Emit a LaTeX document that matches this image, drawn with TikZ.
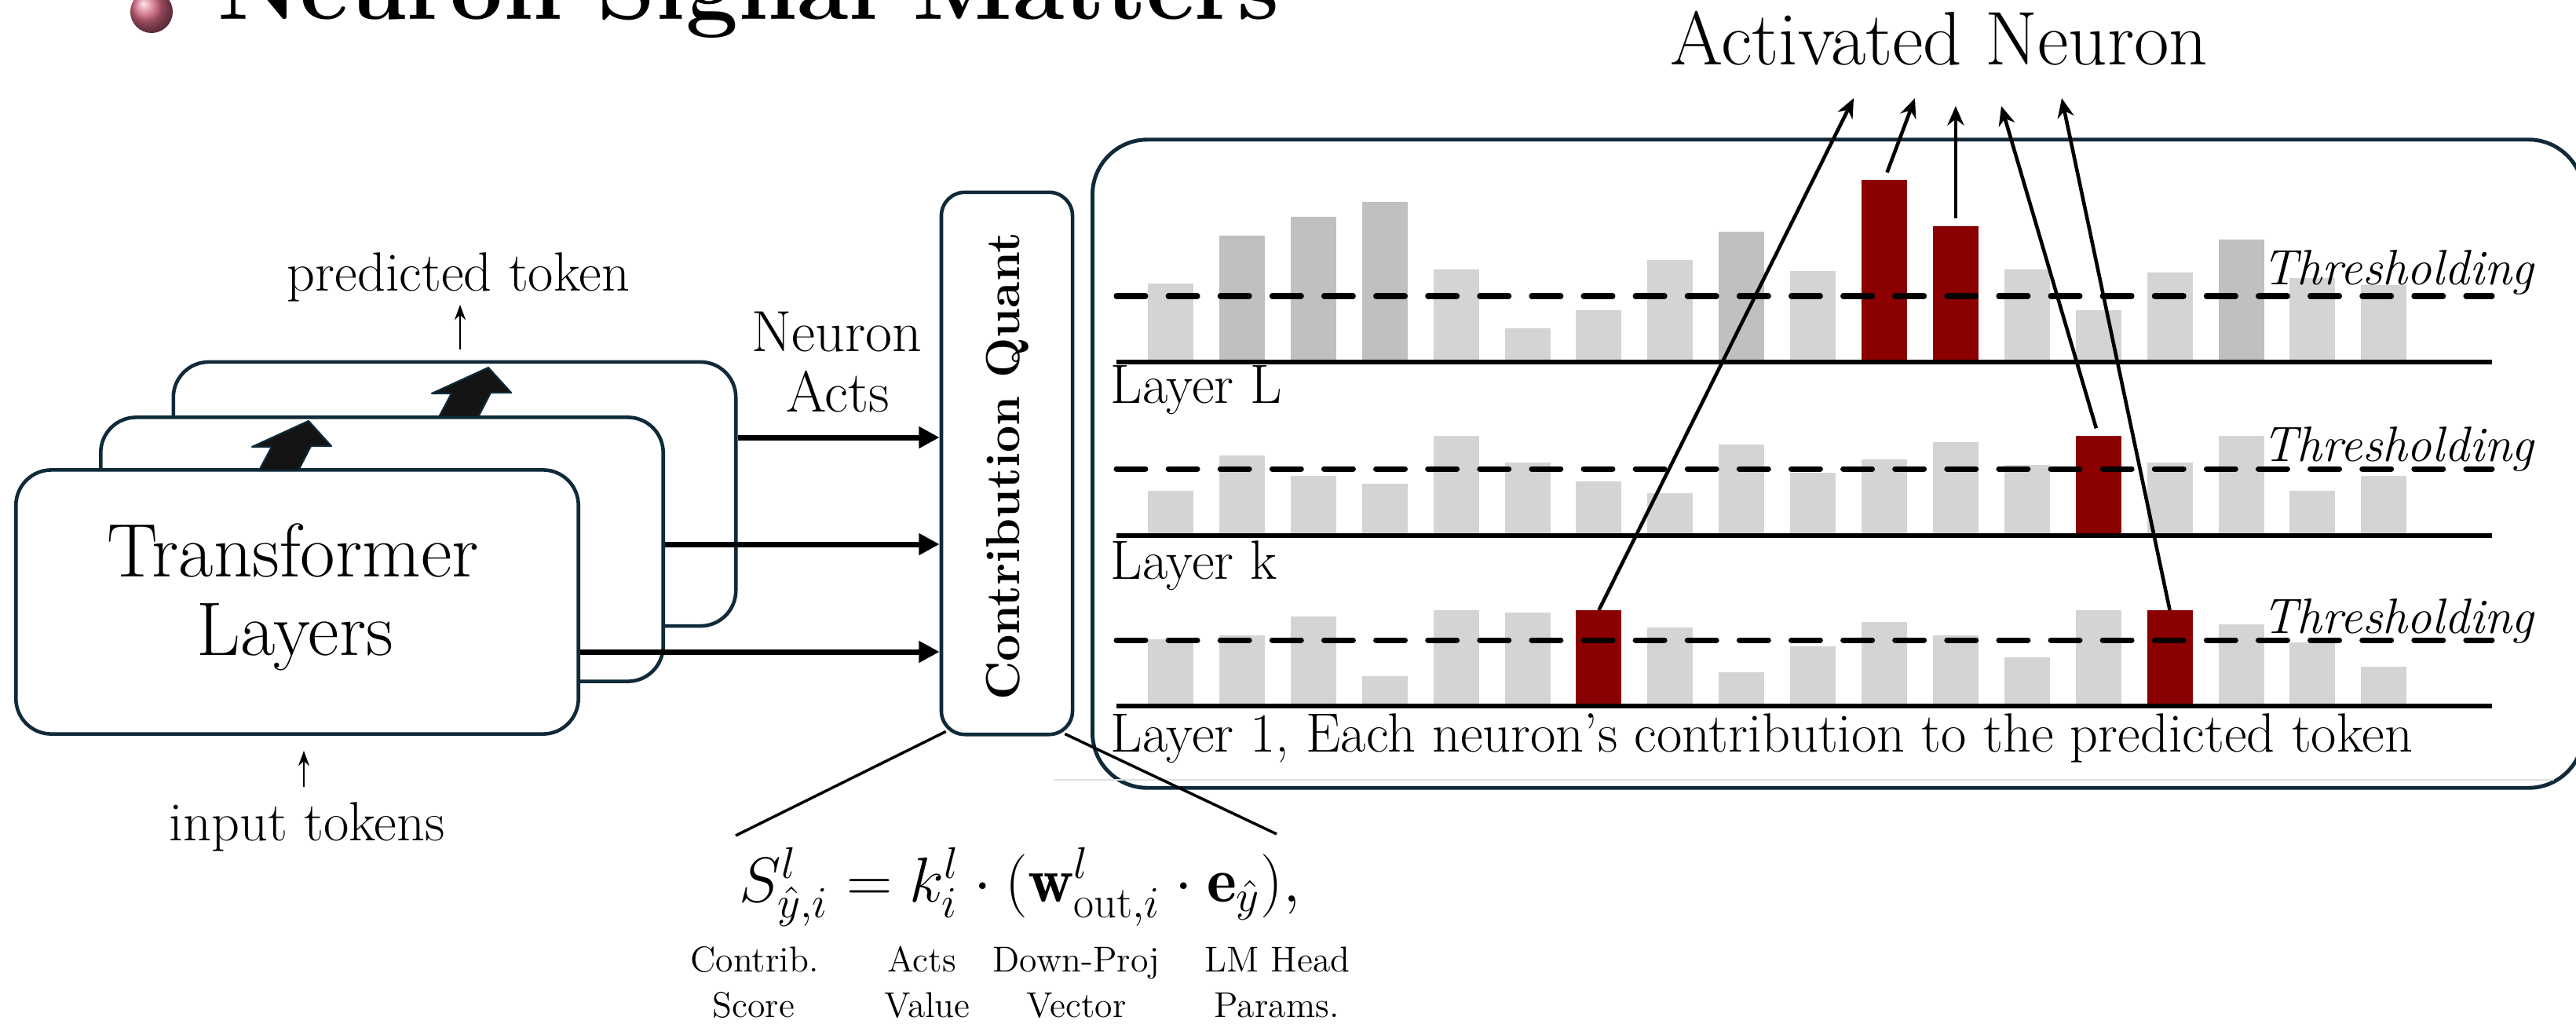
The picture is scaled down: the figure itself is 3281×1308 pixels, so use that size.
\documentclass[tikz,border=0pt]{standalone}
\usepackage{fix-cm}
\usepackage{fontspec}
\usetikzlibrary{arrows.meta}
\definecolor{navy}{RGB}{16,42,58}
\definecolor{barA}{RGB}{212,212,212}
\definecolor{barB}{RGB}{192,192,192}
\definecolor{barR}{RGB}{139,0,0}
\begin{document}
\begin{tikzpicture}[x=0.01cm,y=0.01cm,
  lbl/.style={inner sep=0pt, font=\fontsize{20}{23}\selectfont},
  tbox/.style={draw=navy, line width=1.3pt, fill=white, rounded corners=0.45cm, minimum width=7.16cm, minimum height=3.36cm, inner sep=0pt},
  barnode/.style={inner sep=0pt, outer sep=0pt, minimum width=0.58cm, anchor=south},
  flow/.style={line width=2pt, -{Triangle[length=7.5pt,width=7.5pt]}},
  actarrow/.style={line width=1.3pt, -{Stealth[length=7pt,width=6pt]}},
  tokarrow/.style={line width=0.7pt, -{Stealth[length=5.5pt,width=4pt]}},
  baseln/.style={line width=1.7pt},
  thrline/.style={line width=2pt, dash pattern=on 10.5pt off 8.3pt, line cap=round},
  thrtext/.style={inner sep=0pt, anchor=base east, font=\itshape\fontsize{18}{20}\selectfont},
  blockarrow/.style={fill=black!92, draw=navy, line width=0.6pt, line join=round},
  eqlbl/.style={inner sep=0pt, anchor=base, font=\fontsize{13}{15}\selectfont},
]
\useasboundingbox (0,0) rectangle (3281,-1308);
\clip (0,0) rectangle (3281,-1308);

% ---------- title (cut off at top) ----------
\shade[ball color={rgb,255:red,215;green,105;blue,130}] (193,-15) ellipse [x radius=0.27cm, y radius=0.27cm];
\node[anchor=base west, inner sep=0pt, font=\bfseries\fontsize{34}{40}\selectfont] (title) at (277,-24) {Neuron Signal Matters};

% ---------- right panel ----------
\node[draw=navy, line width=1.4pt, rounded corners=0.7cm, minimum width=18.98cm, minimum height=8.25cm, inner sep=0pt] (panel) at (2341,-590.5) {};
\draw[gray!25, line width=0.5pt] (1342,-993) -- (3253,-993);

% Layer L bars
\foreach \i/\t/\c in {1/361/barA,2/300/barB,3/276/barB,4/257/barB,5/343/barA,6/418/barA,7/395/barA,8/331/barA,9/295/barB,10/345/barA,11/229/barR,12/288/barR,13/343/barA,14/395/barA,15/347/barA,16/305/barB,17/354/barA,18/363/barA}{
  \pgfmathsetmacro\h{(461-\t)/100}
  \node[barnode, fill=\c, minimum height=\h cm] (L\i) at ({1491+(\i-1)*90.9},-461) {};
}
% Layer k bars
\foreach \i/\t/\c in {1/625/barA,2/580/barA,3/606/barA,4/616/barA,5/555/barA,6/589/barA,7/613/barA,8/628/barA,9/566/barA,10/602/barA,11/585/barA,12/563/barA,13/592/barA,14/555/barR,15/589/barA,16/555/barA,17/625/barA,18/606/barA}{
  \pgfmathsetmacro\h{(682-\t)/100}
  \node[barnode, fill=\c, minimum height=\h cm] (K\i) at ({1491+(\i-1)*90.9},-682) {};
}
% Layer 1 bars
\foreach \i/\t/\c in {1/814/barA,2/809/barA,3/785/barA,4/861/barA,5/777/barA,6/780/barA,7/777/barR,8/799/barA,9/856/barA,10/823/barA,11/792/barA,12/809/barA,13/837/barA,14/777/barA,15/777/barR,16/795/barA,17/818/barA,18/849/barA}{
  \pgfmathsetmacro\h{(899-\t)/100}
  \node[barnode, fill=\c, minimum height=\h cm] (F\i) at ({1491+(\i-1)*90.9},-899) {};
}

\draw[baseln] (1422,-461) -- (3174,-461);
\draw[baseln] (1422,-682) -- (3174,-682);
\draw[baseln] (1422,-899) -- (3174,-899);
\draw[thrline] (1422,-377) -- (3174,-377);
\draw[thrline] (1422,-597) -- (3174,-597);
\draw[thrline] (1422,-815) -- (3174,-815);

\node[thrtext] (thrL) at (3228,-362) {Thresholding};
\node[thrtext] (thrK) at (3228,-587) {Thresholding};
\node[thrtext] (thr1) at (3228,-806) {Thresholding};

\node[lbl, anchor=base west] (layL) at (1414,-513) {Layer L};
\node[lbl, anchor=base west] (layK) at (1414,-737) {Layer k};
\node[lbl, anchor=base west] (lay1) at (1414,-957) {Layer 1, Each neuron’s contribution to the predicted token};

% Activated neuron
\node[inner sep=0pt, anchor=base, font=\fontsize{27.5}{31}\selectfont] (actn) at (2470,-82) {Activated Neuron};
\coordinate (t1) at (2361,-125);
\coordinate (t2) at (2439,-125);
\coordinate (h135) at (0,-135);
\coordinate (t3) at (L12.north |- h135);
\coordinate (t4) at (2549,-135);
\coordinate (t5) at (2626,-125);
\draw[actarrow] (F7.north) -- (t1);
\draw[actarrow, shorten <=0.1cm] (L11.north) -- (t2);
\draw[actarrow, shorten <=0.1cm] (L12.north) -- (t3);
\draw[actarrow, shorten <=0.1cm] (K14.north) -- (t4);
\draw[actarrow] (F15.north) -- (t5);

% ---------- transformer stack ----------
\node[tbox] (tb3) at (579,-629) {};
\node[tbox] (tb2) at (486.5,-699.5) {};
\begin{scope}[shift={(229,68)}]
\path[blockarrow] (330,-599) -- (346,-569) -- (321,-569) -- (393,-536) -- (422,-568) -- (396,-568) -- (380,-599) -- cycle;
\end{scope}
\node[tbox] (tb1) at (378.5,-766.5) {};
\path[blockarrow] (330,-599) -- (346,-569) -- (321,-569) -- (393,-536) -- (422,-568) -- (396,-568) -- (380,-599) -- cycle;

\node[inner sep=0pt, anchor=base, font=\fontsize{27.5}{31}\selectfont] (tl1) at (373,-734) {Transformer};
\node[inner sep=0pt, anchor=base, font=\fontsize{27.5}{31}\selectfont] (tl2) at (376,-834) {Layers};

\node[lbl, anchor=base] (pt) at (584,-370) {predicted token};
\coordinate (ptA) at (586,-445);
\coordinate (ptB) at (586,-388);
\draw[tokarrow] (ptA) -- (ptB);

\node[lbl, anchor=base] (it) at (391,-1070) {input tokens};
\coordinate (inA) at (387,-1002);
\coordinate (inB) at (387,-956);
\draw[tokarrow] (inA) -- (inB);

\node[inner sep=0pt, anchor=base, font=\fontsize{21}{24}\selectfont] (na1) at (1066,-447) {Neuron};
\node[inner sep=0pt, anchor=base, font=\fontsize{21}{24}\selectfont] (na2) at (1067,-524) {Acts};

% ---------- contribution quant ----------
\node[draw=navy, line width=1.3pt, fill=white, rounded corners=0.3cm, minimum width=1.67cm, minimum height=6.9cm, inner sep=0pt] (cq) at (1282.5,-590) {};
\node[rotate=90, inner sep=0pt, font=\bfseries\fontsize{17.3}{20}\selectfont] (cqt) at (1283,-594) {Contribution Quant};

\coordinate (y1) at (0,-557);
\coordinate (y2) at (0,-693);
\coordinate (y3) at (0,-830);
\draw[flow] (tb3.east |- y1) -- (cq.west |- y1);
\draw[flow] (tb2.east |- y2) -- (cq.west |- y2);
\draw[flow] (tb1.east |- y3) -- (cq.west |- y3);

% ---------- formula ----------
\node[anchor=base, inner sep=0pt, font=\fontsize{23}{27}\selectfont] (eq) at (1299,-1148) {$S^{l}_{\hat{y},i} = k^{l}_{i} \cdot (\mathbf{w}^{l}_{\mathrm{out},i} \cdot \mathbf{e}_{\hat{y}}),$};
\coordinate (fl) at (937,-1064);
\coordinate (fr) at (1626,-1062);
\draw[line width=1pt] ([xshift=0.08cm,yshift=0.06cm]cq.south west) -- (fl);
\draw[line width=1pt] ([xshift=-0.12cm,yshift=0.03cm]cq.south east) -- (fr);

\node[eqlbl] (e1a) at (961,-1237) {Contrib.};
\node[eqlbl] (e1b) at (960,-1295) {Score};
\node[eqlbl] (e2a) at (1174,-1237) {Acts};
\node[eqlbl] (e2b) at (1181,-1295) {Value};
\node[eqlbl] (e3a) at (1371,-1237) {Down-Proj};
\node[eqlbl] (e3b) at (1371,-1295) {Vector};
\node[eqlbl] (e4a) at (1627,-1237) {LM Head};
\node[eqlbl] (e4b) at (1626,-1295) {Params.};
\end{tikzpicture}
\end{document}
